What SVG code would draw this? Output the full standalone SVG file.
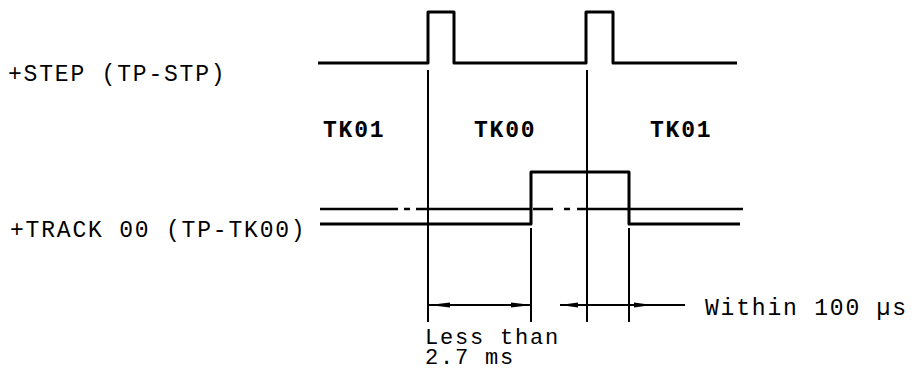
<svg xmlns="http://www.w3.org/2000/svg" width="917" height="370" viewBox="0 0 917 370">
<style>
.wave{fill:none;stroke:#000;stroke-width:3;stroke-linejoin:round}
.thin{fill:none;stroke:#000;stroke-width:2}
.dd{fill:none;stroke:#000;stroke-width:2.5}
.lbl{font-family:"Liberation Mono","Courier New",monospace;font-size:23px;letter-spacing:1.8px;fill:#000}
.sm{font-size:22px}
.tk{font-family:"Liberation Mono","Courier New",monospace;font-size:23px;letter-spacing:1.8px;font-weight:bold;fill:#000}
.ah{fill:#000}
</style>
<rect width="917" height="370" fill="#fff"/>
<g id="step-label"><text class="lbl" x="8" y="81">+STEP (TP-STP)</text></g>
<g id="track-label"><text class="lbl" x="10" y="237">+TRACK 00 (TP-TK00)</text></g>
<g id="tk01-left"><text class="tk" x="323" y="137">TK01</text></g>
<g id="tk00"><text class="tk" x="474" y="137">TK00</text></g>
<g id="tk01-right"><text class="tk" x="650" y="137">TK01</text></g>
<g id="step-wave"><path class="wave" d="M318 63 H428 V12 H454 V63 H586 V12 H613 V63 H737"/></g>
<g id="track-wave">
<path class="wave" d="M320 224 H531 V172 H629 V224 H740"/>
<path class="dd" d="M320 209 H398 M404 209 H410 M416 209 H531 M533 209 H553 M564 209 H570 M577 209 H743"/>
</g>
<g id="connectors">
<path class="thin" d="M428 70 V322 M587 70 V322 M531 228 V322 M629 228 V322"/>
<path class="thin" d="M429 305 H532 M560 305 H685"/>
<polygon class="ah" points="429,305 450,302.5 450,307.5"/>
<polygon class="ah" points="532,305 511,302.5 511,307.5"/>
<polygon class="ah" points="560,305 578,302.5 578,307.5"/>
<polygon class="ah" points="652,305 634,302.5 634,307.5"/>
</g>
<g id="within-label"><text class="lbl" x="705" y="315">Within 100 µs</text></g>
<g id="less-label"><text class="lbl sm" x="425" y="344">Less than<tspan x="425" y="364">2.7 ms</tspan></text></g>
</svg>
